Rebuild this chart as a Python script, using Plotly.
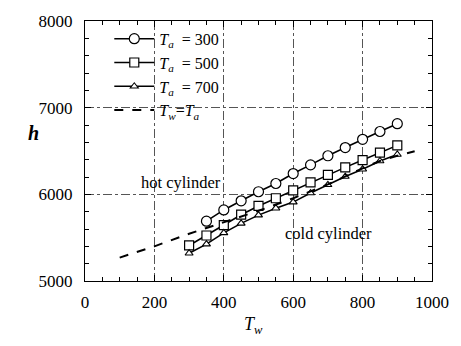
import plotly.graph_objects as go

# Data
tw_300 = [350, 400, 450, 500, 550, 600, 650, 700, 750, 800, 850, 900]
h_300 = [5690, 5820, 5925, 6030, 6125, 6240, 6340, 6445, 6540, 6635, 6725, 6815]

tw_500 = [300, 350, 400, 450, 500, 550, 600, 650, 700, 750, 800, 850, 900]
h_500 = [5410, 5525, 5645, 5765, 5866, 5955, 6045, 6138, 6225, 6311, 6395, 6481, 6565]

tw_700 = [300, 350, 400, 450, 500, 550, 600, 650, 700, 750, 800, 850, 900]
h_700 = [5320, 5425, 5555, 5665, 5760, 5840, 5910, 6015, 6110, 6205, 6290, 6385, 6460]

tw_eq = [100, 200, 300, 400, 500, 600, 700, 800, 850, 900, 950]
h_eq = [5270, 5400, 5545, 5680, 5810, 5955, 6115, 6300, 6385, 6445, 6497]

x_ticks = [0, 200, 400, 600, 800, 1000]
y_ticks = [5000, 6000, 7000, 8000]

FONT = "Liberation Serif"

fig = go.Figure()
fig.add_trace(go.Scatter(
    x=tw_300, y=h_300, mode="lines+markers",
    name="<i>T</i><sub><i>a</i></sub>  = 300",
    line=dict(color="black", width=1.6),
    marker=dict(symbol="circle", size=10, color="white", line=dict(color="black", width=1.2)),
))
fig.add_trace(go.Scatter(
    x=tw_500, y=h_500, mode="lines+markers",
    name="<i>T</i><sub><i>a</i></sub>  = 500",
    line=dict(color="black", width=1.6),
    marker=dict(symbol="square", size=9, color="white", line=dict(color="black", width=1.2)),
))
fig.add_trace(go.Scatter(
    x=tw_700, y=h_700, mode="lines+markers",
    name="<i>T</i><sub><i>a</i></sub>  = 700",
    line=dict(color="black", width=1.6),
    marker=dict(symbol="triangle-up", size=7, color="white", line=dict(color="black", width=1.1)),
))
fig.add_trace(go.Scatter(
    x=tw_eq, y=h_eq, mode="lines",
    name="<i>T</i><sub><i>w</i></sub>=<i>T</i><sub><i>a</i></sub>",
    line=dict(color="black", width=2, dash="dash"),
))

axis_common = dict(
    showline=True, linecolor="black", linewidth=1.2, mirror="allticks",
    ticks="inside", ticklen=6, tickcolor="black",
    showgrid=True, gridcolor="#555555", griddash="dashdot", gridwidth=0.8,
    zeroline=False,
    tickfont=dict(family=FONT, size=17, color="black"),
)

fig.update_xaxes(
    range=[0, 1000], tickvals=x_ticks, ticklabelstandoff=5,
    minor=dict(ticks="inside", dtick=50, ticklen=4, tickcolor="black", showgrid=False),
    **axis_common,
)
fig.update_yaxes(
    range=[5000, 8000], tickvals=y_ticks, ticklabelstandoff=8,
    minor=dict(ticks="inside", dtick=200, ticklen=4, tickcolor="black", showgrid=False),
    **axis_common,
)

fig.add_annotation(x=278, y=6138, text="hot cylinder", showarrow=False,
                   font=dict(family=FONT, size=16.5, color="black"))
fig.add_annotation(x=701, y=5546, text="cold cylinder", showarrow=False,
                   font=dict(family=FONT, size=16.5, color="black"))
fig.add_annotation(xref="paper", yref="paper", x=-0.17, y=0.57, text="<b><i>h</i></b>",
                   showarrow=False, font=dict(family=FONT, size=20, color="black"))
fig.add_annotation(xref="paper", yref="paper", x=0.485, y=-0.17,
                   text="<i>T</i><sub><i>w</i></sub>", yanchor="middle",
                   showarrow=False, font=dict(family=FONT, size=18, color="black"))

fig.update_layout(
    width=461, height=346,
    margin=dict(l=85, r=17, t=16, b=65),
    plot_bgcolor="white", paper_bgcolor="white",
    showlegend=True,
    legend=dict(x=0.07, y=0.997, xanchor="left", yanchor="top",
                bgcolor="rgba(0,0,0,0)", borderwidth=0,
                font=dict(family=FONT, size=16, color="black"),
                tracegroupgap=0, itemwidth=40),
)

fig.write_html("out.html")
